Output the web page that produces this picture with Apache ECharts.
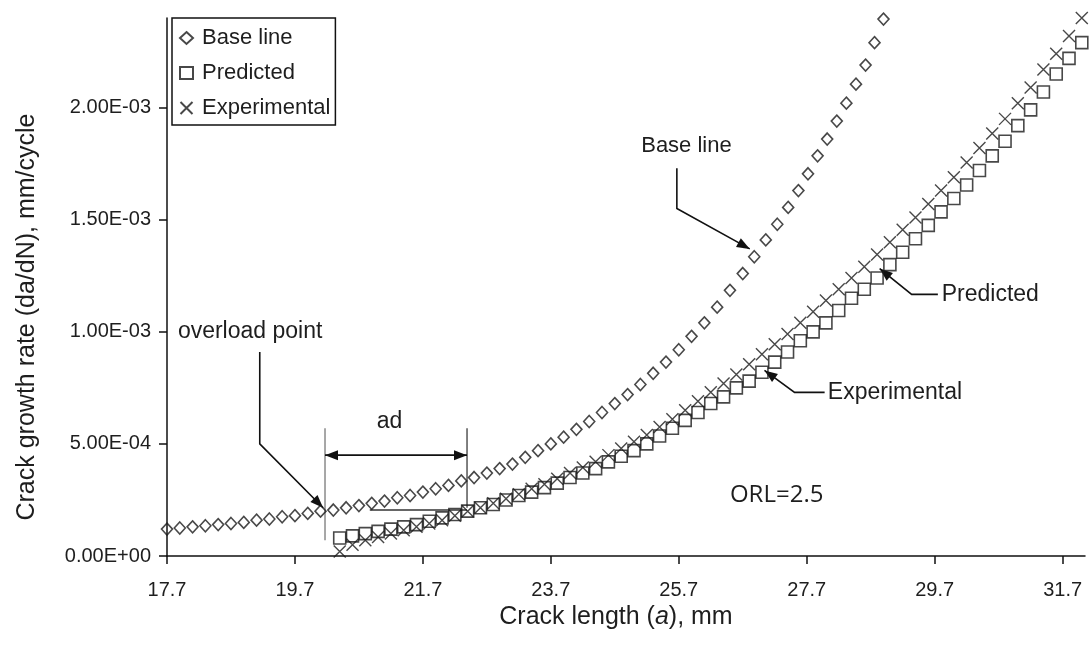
<!DOCTYPE html>
<html><head><meta charset="utf-8">
<script src="https://cdn.jsdelivr.net/npm/echarts@6/dist/echarts.min.js"></script>
<style>html,body{margin:0;padding:0;background:#fff}#c{width:1092px;height:650px}</style>
</head><body><div id="c"></div>
<script>
// ---- data (rates in units of 1e-3 mm/cycle) ----
const RATE_UNIT = 1e-3;
const xTicks = [17.7, 19.7, 21.7, 23.7, 25.7, 27.7, 29.7, 31.7];
const yTicks = [0, 0.0005, 0.001, 0.0015, 0.002];

const baseX = [17.7,17.9,18.1,18.3,18.5,18.7,18.9,19.1,19.3,19.5,19.7,19.9,20.1,20.3,20.5,20.7,20.9,21.1,21.3,21.5,21.7,21.9,22.1,22.3,22.5,22.7,22.9,23.1,23.3,23.5,23.7,23.9,24.1,24.3,24.5,24.7,24.9,25.1,25.3,25.5,25.7,25.9,26.1,26.3,26.5,26.7,26.88,27.06,27.24,27.41,27.57,27.72,27.87,28.02,28.17,28.32,28.47,28.62,28.76,28.9];
const baseRate = [0.120,0.125,0.130,0.135,0.140,0.145,0.150,0.160,0.165,0.175,0.180,0.190,0.200,0.205,0.215,0.225,0.235,0.245,0.260,0.270,0.285,0.300,0.315,0.335,0.350,0.370,0.390,0.410,0.440,0.470,0.500,0.530,0.565,0.600,0.640,0.680,0.720,0.765,0.815,0.865,0.920,0.980,1.040,1.110,1.185,1.260,1.335,1.410,1.480,1.555,1.630,1.705,1.785,1.860,1.940,2.020,2.105,2.190,2.290,2.395];

const predX = [20.4,20.6,20.8,21.0,21.2,21.4,21.6,21.8,22.0,22.2,22.4,22.6,22.8,23.0,23.2,23.4,23.6,23.8,24.0,24.2,24.4,24.6,24.8,25.0,25.2,25.4,25.6,25.8,26.0,26.2,26.4,26.6,26.8,27.0,27.2,27.4,27.6,27.8,28.0,28.2,28.4,28.6,28.8,29.0,29.2,29.4,29.6,29.8,30.0,30.2,30.4,30.6,30.8,31.0,31.2,31.4,31.6,31.8,32.0];
const predRate = [0.080,0.090,0.100,0.110,0.120,0.130,0.140,0.155,0.170,0.185,0.200,0.215,0.230,0.250,0.270,0.285,0.305,0.325,0.350,0.370,0.390,0.420,0.445,0.470,0.500,0.535,0.570,0.605,0.640,0.680,0.710,0.750,0.780,0.820,0.865,0.910,0.960,1.000,1.040,1.095,1.150,1.190,1.240,1.300,1.355,1.415,1.475,1.535,1.595,1.655,1.720,1.785,1.850,1.920,1.990,2.070,2.150,2.220,2.290];

const expX = [20.4,20.6,20.8,21.0,21.2,21.4,21.6,21.8,22.0,22.2,22.4,22.6,22.8,23.0,23.2,23.4,23.6,23.8,24.0,24.2,24.4,24.6,24.8,25.0,25.2,25.4,25.6,25.8,26.0,26.2,26.4,26.6,26.8,27.0,27.2,27.4,27.6,27.8,28.0,28.2,28.4,28.6,28.8,29.0,29.2,29.4,29.6,29.8,30.0,30.2,30.4,30.6,30.8,31.0,31.2,31.4,31.6,31.8,32.0];
const expRate = [0.020,0.050,0.070,0.085,0.100,0.115,0.130,0.145,0.160,0.180,0.200,0.215,0.235,0.255,0.275,0.300,0.320,0.345,0.370,0.395,0.420,0.450,0.480,0.510,0.540,0.575,0.610,0.650,0.690,0.730,0.770,0.810,0.855,0.900,0.945,0.990,1.040,1.090,1.140,1.190,1.240,1.290,1.345,1.400,1.455,1.510,1.570,1.630,1.690,1.755,1.820,1.885,1.950,2.020,2.090,2.170,2.240,2.320,2.400];

const seriesNames = ['Base line', 'Predicted', 'Experimental'];

// annotation anchors in data coordinates [crack length, rate(1e-3)]
const annOverloadText = [17.87, 1.00];
const annOverloadArrow = [[19.15, 0.91], [19.15, 0.50], [20.14, 0.215]];
const annAdText = [21.18, 0.60];
const annAdLeft = [[20.17, 0.57], [20.17, 0.07]];
const annAdRight = [[22.39, 0.57], [22.39, 0.215]];
const annAdArrow = [[20.17, 0.45], [22.39, 0.45]];
const annAdFoot = [[20.87, 0.205], [22.39, 0.205]];
const annBaseText = [25.82, 1.83];
const annBaseArrow = [[25.67, 1.73], [25.67, 1.55], [26.81, 1.37]];
const annPredText = [29.81, 1.167];
const annPredArrow = [[29.75, 1.167], [29.34, 1.167], [28.84, 1.282]];
const annExpText = [28.03, 0.73];
const annExpArrow = [[27.98, 0.73], [27.51, 0.73], [27.04, 0.828]];
const annOrlText = [26.5, 0.27];

function pairs(xs, ys) { return xs.map((x, i) => [x, ys[i] * RATE_UNIT]); }
function sci(v) {
  if (v === 0) return '0.00E+00';
  const e = Math.floor(Math.log10(v) + 1e-9);
  const m = v / Math.pow(10, e);
  return m.toFixed(2) + 'E' + (e < 0 ? '-' : '+') + String(Math.abs(e)).padStart(2, '0');
}
const FONT = '"Liberation Sans", Arial, sans-serif';
const TXT = '#1e1e1e';
const hollow = { color: 'rgba(255,255,255,0)', borderColor: '#1a1a1a', borderWidth: 1.6 };

const chart = echarts.init(document.getElementById('c'), null, { renderer: 'canvas' });
chart.setOption({
  animation: false,
  backgroundColor: '#fff',
  grid: { left: 167, right: 7, top: 18, bottom: 94, containLabel: false },
  legend: {
    orient: 'vertical', left: 172, top: 18, selectedMode: false,
    padding: [9, 5, 6, 7], itemGap: 13, itemWidth: 13, itemHeight: 12,
    borderColor: '#111', borderWidth: 1.5, backgroundColor: '#fff',
    textStyle: { fontSize: 22, color: TXT, fontFamily: FONT, padding: [0, 0, 0, 4] },
    data: seriesNames
  },
  xAxis: {
    type: 'value', min: 17.7, max: 32.05,
    splitLine: { show: false },
    axisLine: { onZero: false, lineStyle: { color: '#111', width: 1.5 } },
    axisTick: { show: true, customValues: xTicks, length: 8, lineStyle: { color: '#111', width: 1.5 } },
    axisLabel: { customValues: xTicks, formatter: v => v.toFixed(1), fontSize: 20, color: TXT, fontFamily: FONT, margin: 24 },
    name: 'Crack length ({i|a}), mm', nameLocation: 'middle', nameGap: 45,
    nameTextStyle: { fontSize: 25, color: TXT, fontFamily: FONT, padding: [0, 20, 0, 0],
      rich: { i: { fontStyle: 'italic', fontSize: 25, color: TXT, fontFamily: FONT } } }
  },
  yAxis: {
    type: 'value', min: 0, max: 0.0024,
    splitLine: { show: false },
    axisLine: { lineStyle: { color: '#111', width: 1.5 } },
    axisTick: { show: true, customValues: yTicks, length: 8, lineStyle: { color: '#111', width: 1.5 } },
    axisLabel: { customValues: yTicks, formatter: sci, fontSize: 20, color: TXT, fontFamily: FONT, margin: 16 },
    name: 'Crack growth rate (da/dN), mm/cycle', nameLocation: 'middle', nameGap: 127,
    nameTextStyle: { fontSize: 25, color: TXT, fontFamily: FONT, padding: [0, 60, 0, 0] }
  },
  series: [
    { name: seriesNames[0], type: 'scatter', clip: false, data: pairs(baseX, baseRate),
      symbol: 'diamond', symbolSize: [11, 12], itemStyle: hollow },
    { name: seriesNames[1], type: 'scatter', clip: false, data: pairs(predX, predRate),
      symbol: 'rect', symbolSize: 12, itemStyle: hollow },
    { name: seriesNames[2], type: 'scatter', clip: false, data: pairs(expX, expRate),
      symbol: 'path://M0,0L10,10M0,10L10,0', symbolSize: 12,
      itemStyle: { color: 'rgba(0,0,0,0)', borderColor: '#1a1a1a', borderWidth: 1.4 } }
  ]
});

// ---- annotations (positioned from data coordinates) ----
function px(p) { return chart.convertToPixel({ gridIndex: 0 }, [p[0], p[1] * RATE_UNIT]); }
const g = [];
function line(pts, color, w) {
  g.push({ type: 'polyline', silent: true, shape: { points: pts.map(px) },
    style: { stroke: color || '#111', lineWidth: w || 1.6, fill: null } });
}
function head(tipD, fromD) {
  const P = px(tipD), Q = px(fromD);
  let dx = P[0] - Q[0], dy = P[1] - Q[1];
  const L = Math.hypot(dx, dy); dx /= L; dy /= L;
  const len = 13, wid = 5;
  const bx = P[0] - dx * len, by = P[1] - dy * len;
  g.push({ type: 'polygon', silent: true, shape: { points: [P, [bx - dy * wid, by + dx * wid], [bx + dy * wid, by - dx * wid]] },
    style: { fill: '#111', stroke: null } });
}
function arrow(pts) { line(pts); head(pts[pts.length - 1], pts[pts.length - 2]); }
function text(p, s, size, align, family) {
  const P = px(p);
  g.push({ type: 'text', silent: true, x: P[0], y: P[1],
    style: { text: s, fill: TXT, fontSize: size, fontFamily: family || FONT,
      align: align || 'left', verticalAlign: 'middle', textAlign: align || 'left', textVerticalAlign: 'middle' } });
}
text(annOverloadText, 'overload point', 23);
arrow(annOverloadArrow);
text(annAdText, 'ad', 23, 'center');
line(annAdLeft, '#8a8a8a', 1.5);
line(annAdRight, '#555', 1.5);
line(annAdArrow, '#111', 1.8);
head(annAdArrow[0], annAdArrow[1]);
head(annAdArrow[1], annAdArrow[0]);
line(annAdFoot, '#333', 1.4);
text(annBaseText, 'Base line', 22, 'center');
arrow(annBaseArrow);
text(annPredText, 'Predicted', 23);
arrow(annPredArrow);
text(annExpText, 'Experimental', 23);
arrow(annExpArrow);
text(annOrlText, 'ORL=2.5', 24, 'left', '"Open Sans", Lato, sans-serif');
chart.setOption({ graphic: g });
</script>
</body></html>
